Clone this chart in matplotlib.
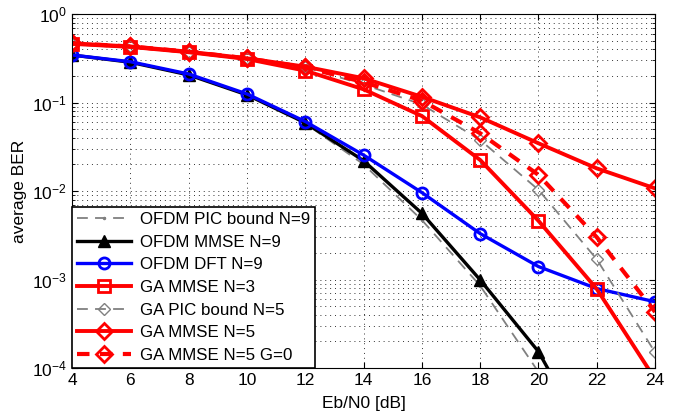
import numpy as np
import matplotlib
matplotlib.use("Agg")
import matplotlib.pyplot as plt
from matplotlib.ticker import LogLocator, NullFormatter

plt.rcParams['font.family'] = ['Liberation Sans', 'DejaVu Sans']
plt.rcParams['mathtext.fontset'] = 'custom'
plt.rcParams['mathtext.rm'] = 'Liberation Sans'

# Eb/N0 points [dB]
snr = [4, 6, 8, 10, 12, 14, 16, 18, 20, 22, 24]
snr_ofdm = [4, 6, 8, 10, 12, 14, 16, 18, 20, 22]

# average BER
ofdm_pic_n9 = [0.344, 0.285, 0.205, 0.122, 0.058, 0.020, 0.0047, 0.00085, 0.00009, 0.000008]
ofdm_mmse_n9 = [0.344, 0.285, 0.205, 0.122, 0.059, 0.022, 0.0056, 0.00099, 0.000153, 0.00001]
ofdm_dft_n9 = [0.344, 0.289, 0.21, 0.125, 0.061, 0.0255, 0.0096, 0.0033, 0.0014, 0.00079, 0.00056]
ga_mmse_n3 = [0.46, 0.425, 0.37, 0.31, 0.229, 0.141, 0.0704, 0.0224, 0.0046, 0.00078, 0.000075]
ga_pic_n5 = [0.46, 0.43, 0.375, 0.316, 0.25, 0.16, 0.095, 0.0377, 0.0103, 0.00169, 0.00015]
ga_mmse_n5 = [0.466, 0.43, 0.375, 0.316, 0.254, 0.188, 0.116, 0.068, 0.0346, 0.018, 0.0107]
ga_mmse_n5_g0 = [0.466, 0.43, 0.375, 0.316, 0.25, 0.17, 0.105, 0.0449, 0.0152, 0.003, 0.00043]

fig = plt.figure(figsize=(6.81, 4.18), dpi=100)
ax = fig.add_axes([0.1057, 0.1196, 0.8563, 0.8469])

gray = '#808080'
ax.semilogy(snr_ofdm, ofdm_pic_n9, '--', color=gray, lw=1.3, marker='.', ms=3,
            dashes=(6, 4), label='OFDM PIC bound N=9')
ax.semilogy(snr_ofdm, ofdm_mmse_n9, '-', color='black', lw=2.4, marker='^', ms=9,
            label='OFDM MMSE N=9')
ax.semilogy(snr, ofdm_dft_n9, '-', color='blue', lw=2.4, marker='o', ms=8, mfc='none',
            mew=2, label='OFDM DFT N=9')
ax.semilogy(snr, ga_mmse_n3, '-', color='red', lw=2.8, marker='s', ms=8, mfc='none',
            mew=2, label='GA MMSE N=3')
ax.semilogy(snr, ga_pic_n5, '--', color=gray, lw=1.3, marker='D', ms=6, mfc='none',
            dashes=(6, 4), label='GA PIC bound N=5')
ax.semilogy(snr, ga_mmse_n5, '-', color='red', lw=2.8, marker='D', ms=8, mfc='none',
            mew=2, label='GA MMSE N=5')
ax.semilogy(snr, ga_mmse_n5_g0, '--', color='red', lw=3.0, marker='D', ms=8, mfc='none',
            mew=2, dashes=(3, 2.5), label='GA MMSE N=5 G=0')

ax.set_xlim(4, 24)
ax.set_ylim(1e-4, 1)
ax.set_xticks(range(4, 25, 2))
ax.yaxis.set_major_locator(LogLocator(base=10, numticks=10))
ax.yaxis.set_minor_locator(LogLocator(base=10, subs=np.arange(2, 10), numticks=20))
ax.yaxis.set_minor_formatter(NullFormatter())
ax.tick_params(which='both', direction='in', top=True, right=True, labelsize=12.5)
ax.tick_params(which='major', length=4)
ax.tick_params(which='minor', length=2)
ax.grid(True, which='major', ls=(0, (1, 4)), color='#333333', lw=0.7)
ax.grid(True, which='minor', axis='y', ls=(0, (1, 4)), color='#333333', lw=0.7)

ax.set_xlabel('Eb/N0 [dB]', fontsize=12.5, labelpad=6)
ax.set_ylabel('average BER', fontsize=12.5, labelpad=4)

leg = ax.legend(loc='lower left', fontsize=12.2, handlelength=3.2, borderaxespad=0.0,
                frameon=True, fancybox=False, edgecolor='black', labelspacing=0.45,
                borderpad=0.3, handletextpad=0.5)
leg.get_frame().set_linewidth(1.2)
leg.get_frame().set_alpha(1)

fig.savefig('out.png', dpi=100)
